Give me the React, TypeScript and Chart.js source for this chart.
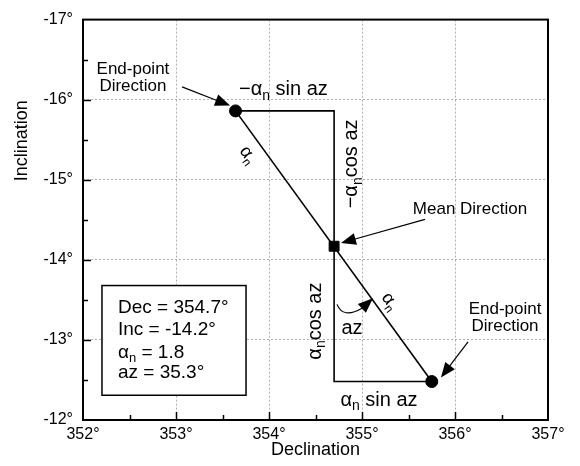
import React, { useEffect, useRef } from 'react';
import { Chart, registerables } from 'chart.js';

Chart.register(...registerables);

// ---- data ----
const decRange = [352, 357];
const incRange = [-17, -12];
const endPointDec = [353.64, 355.75];
const endPointInc = [-15.86, -12.48];
const meanDec = [354.7];
const meanInc = [-14.17];
const statLines = ['Dec = 354.7°', 'Inc = -14.2°', 'αn = 1.8', 'az = 35.3°'];

const FONT = '"Liberation Sans", Arial, Helvetica, sans-serif';

type Seg = { t: string; sub?: boolean };

const SUBR = 0.68;

function measureRich(ctx: CanvasRenderingContext2D, segs: Seg[], size: number) {
  let w = 0;
  for (const s of segs) {
    ctx.font = `${s.sub ? Math.round(size * SUBR) : size}px ${FONT}`;
    w += ctx.measureText(s.t).width;
  }
  return w;
}

function drawRich(
  ctx: CanvasRenderingContext2D,
  segs: Seg[],
  x: number,
  y: number,
  size: number,
  align: 'left' | 'center',
  rot = 0
) {
  ctx.save();
  ctx.translate(x, y);
  ctx.rotate(rot);
  const w = measureRich(ctx, segs, size);
  let cx = align === 'center' ? -w / 2 : 0;
  ctx.textBaseline = 'middle';
  ctx.textAlign = 'left';
  ctx.fillStyle = '#000';
  for (const s of segs) {
    const fs = s.sub ? Math.round(size * SUBR) : size;
    ctx.font = `${fs}px ${FONT}`;
    ctx.fillText(s.t, cx, s.sub ? size * 0.32 : 0);
    cx += ctx.measureText(s.t).width;
  }
  ctx.restore();
}

function arrowHead(ctx: CanvasRenderingContext2D, fx: number, fy: number, tx: number, ty: number, len = 15, hw = 6) {
  const a = Math.atan2(ty - fy, tx - fx);
  const bx = tx - len * Math.cos(a);
  const by = ty - len * Math.sin(a);
  ctx.beginPath();
  ctx.moveTo(tx, ty);
  ctx.lineTo(bx + hw * Math.sin(a), by - hw * Math.cos(a));
  ctx.lineTo(bx - hw * Math.sin(a), by + hw * Math.cos(a));
  ctx.closePath();
  ctx.fill();
}

function parseStat(s: string): Seg[] {
  if (s.startsWith('αn')) return [{ t: 'α' }, { t: 'n', sub: true }, { t: s.slice(2) }];
  return [{ t: s }];
}

const annotPlugin = {
  id: 'annot',
  afterDraw(chart: any) {
    const { ctx, chartArea: ca, scales } = chart;
    const xs = scales.x;
    const ys = scales.y;
    const X = (v: number) => xs.getPixelForValue(v);
    const Y = (v: number) => ys.getPixelForValue(v);
    ctx.save();
    ctx.fillStyle = '#000';
    ctx.strokeStyle = '#000';

    // inner tick marks
    ctx.lineWidth = 1.5;
    for (let v = decRange[0] + 0.5; v < decRange[1]; v += 0.5) {
      const len = v % 1 === 0 ? 8 : 5;
      const px = Math.round(X(v)) + 0.5;
      ctx.beginPath();
      ctx.moveTo(px, ca.bottom);
      ctx.lineTo(px, ca.bottom - len);
      ctx.stroke();
    }
    for (let v = incRange[0] + 0.5; v < incRange[1]; v += 0.5) {
      const len = v % 1 === 0 ? 8 : 5;
      const py = Math.round(Y(v)) + 0.5;
      ctx.beginPath();
      ctx.moveTo(ca.left, py);
      ctx.lineTo(ca.left + len, py);
      ctx.stroke();
    }

    // frame
    ctx.lineWidth = 2;
    ctx.strokeRect(ca.left, ca.top, ca.right - ca.left, ca.bottom - ca.top);

    // axis titles
    ctx.font = `18px ${FONT}`;
    ctx.textAlign = 'center';
    ctx.textBaseline = 'middle';
    ctx.fillText('Declination', (ca.left + ca.right) / 2, 450);
    ctx.save();
    ctx.translate(22, Y(-15.5) + 1);
    ctx.rotate(-Math.PI / 2);
    ctx.fillText('Inclination', 0, 0);
    ctx.restore();

    // stats box
    const bx0 = X(352.204), by0 = Y(-13.679), bx1 = X(353.753), by1 = Y(-12.309);
    ctx.fillStyle = '#fff';
    ctx.fillRect(bx0, by0, bx1 - bx0, by1 - by0);
    ctx.lineWidth = 1.5;
    ctx.strokeRect(bx0, by0, bx1 - bx0, by1 - by0);
    ctx.fillStyle = '#000';
    const statY = [-13.407, -13.123, -12.84, -12.593];
    statLines.forEach((s, i) => drawRich(ctx, parseStat(s), X(352.376), Y(statY[i]), 19, 'left'));

    // diagonal angle
    const p1x = X(endPointDec[0]), p1y = Y(endPointInc[0]);
    const p2x = X(endPointDec[1]), p2y = Y(endPointInc[1]);
    const diagAng = Math.atan2(p2y - p1y, p2x - p1x);

    const alphaN: Seg[] = [{ t: 'α' }, { t: 'n', sub: true }];

    // labels
    ctx.font = `17px ${FONT}`;
    ctx.textAlign = 'center';
    ctx.textBaseline = 'middle';
    ctx.fillText('End-point', X(352.537), Y(-16.383));
    ctx.fillText('Direction', X(352.537), Y(-16.173));
    ctx.fillText('Mean Direction', X(356.161), Y(-14.63));
    ctx.fillText('End-point', X(356.538), Y(-13.383));
    ctx.fillText('Direction', X(356.538), Y(-13.173));

    drawRich(ctx, [{ t: '−α' }, { t: 'n', sub: true }, { t: ' sin az' }], X(353.677), Y(-16.123), 20, 'left');
    drawRich(ctx, [{ t: 'α' }, { t: 'n', sub: true }, { t: ' sin az' }], X(355.183), Y(-12.247), 20, 'center');
    drawRich(ctx, [{ t: '−α' }, { t: 'n', sub: true }, { t: 'cos az' }], X(354.892), Y(-15.198), 20, 'center', -Math.PI / 2);
    drawRich(ctx, [{ t: 'α' }, { t: 'n', sub: true }, { t: 'cos az' }], X(354.495), Y(-13.235), 20, 'center', -Math.PI / 2);
    drawRich(ctx, [{ t: 'az' }], X(354.892), Y(-13.148), 20, 'center');
    drawRich(ctx, alphaN, X(353.774), Y(-15.309), 18, 'center', diagAng);
    drawRich(ctx, alphaN, X(355.301), Y(-13.481), 18, 'center', diagAng);

    // straight arrows
    const arrows = [
      [353.065, -16.16, 353.581, -15.926],
      [355.677, -14.506, 354.774, -14.21],
      [356.14, -12.975, 355.849, -12.531],
    ];
    ctx.lineWidth = 1.2;
    for (const [fx, fy, tx, ty] of arrows) {
      const a = X(fx), b = Y(fy), c = X(tx), d = Y(ty);
      const ang = Math.atan2(d - b, c - a);
      ctx.beginPath();
      ctx.moveTo(a, b);
      ctx.lineTo(c - 12 * Math.cos(ang), d - 12 * Math.sin(ang));
      ctx.stroke();
      arrowHead(ctx, a, b, c, d, 15, 6);
    }

    // curved arrow (az)
    const c0x = X(354.731), c0y = Y(-13.444);
    const c1x = X(354.796), c1y = Y(-13.259);
    const c2x = X(355.0), c2y = Y(-13.395);
    const tipx = X(355.118), tipy = Y(-13.519);
    ctx.beginPath();
    ctx.moveTo(c0x, c0y);
    ctx.quadraticCurveTo(c1x, c1y, c2x, c2y);
    ctx.stroke();
    arrowHead(ctx, c2x, c2y, tipx, tipy, 15, 6);

    ctx.restore();
  },
};

export default function App() {
  const ref = useRef<HTMLCanvasElement | null>(null);

  useEffect(() => {
    if (!ref.current) return;
    const pathPts = [
      { x: endPointDec[0], y: endPointInc[0] },
      { x: meanDec[0], y: endPointInc[0] },
      { x: meanDec[0], y: endPointInc[1] },
      { x: endPointDec[1], y: endPointInc[1] },
    ];
    const diagPts = [
      { x: endPointDec[0], y: endPointInc[0] },
      { x: endPointDec[1], y: endPointInc[1] },
    ];
    const chart = new Chart(ref.current, {
      type: 'scatter',
      data: {
        datasets: [
          {
            data: pathPts,
            showLine: true,
            borderColor: '#000',
            borderWidth: 1.6,
            pointRadius: 0,
            fill: false,
          },
          {
            data: diagPts,
            showLine: true,
            borderColor: '#000',
            borderWidth: 1.6,
            pointRadius: 0,
            fill: false,
          },
          {
            data: endPointDec.map((d, i) => ({ x: d, y: endPointInc[i] })),
            pointRadius: 6,
            pointBackgroundColor: '#000',
            pointBorderColor: '#000',
            pointStyle: 'circle',
          },
          {
            data: meanDec.map((d, i) => ({ x: d, y: meanInc[i] })),
            pointRadius: 7,
            pointBackgroundColor: '#000',
            pointBorderColor: '#000',
            pointStyle: 'rect',
          },
        ],
      },
      options: {
        animation: false,
        responsive: true,
        maintainAspectRatio: false,
        layout: { padding: { top: 15, right: 32, left: 0, bottom: 0 } },
        plugins: { legend: { display: false }, tooltip: { enabled: false } },
        scales: {
          x: {
            type: 'linear',
            min: decRange[0],
            max: decRange[1],
            afterFit: (s: any) => {
              s.height = 46;
            },
            ticks: {
              stepSize: 1,
              padding: 5,
              color: '#000',
              font: { family: FONT, size: 16 },
              callback: (v: any) => `${v}°`,
              maxRotation: 0,
            },
            grid: { color: '#b0b0b0', lineWidth: 1, drawTicks: false },
            border: { display: false, dash: [2, 2] },
          },
          y: {
            type: 'linear',
            min: incRange[0],
            max: incRange[1],
            reverse: true,
            afterFit: (s: any) => {
              s.width = 83;
            },
            ticks: {
              stepSize: 1,
              padding: 10,
              color: '#000',
              font: { family: FONT, size: 16 },
              callback: (v: any) => `${v}°`,
            },
            grid: { color: '#b0b0b0', lineWidth: 1, drawTicks: false },
            border: { display: false, dash: [2, 2] },
          },
        },
      },
      plugins: [annotPlugin],
    });
    return () => chart.destroy();
  }, []);

  return (
    <div style={{ position: 'absolute', left: 0, top: 0, width: 580, height: 466, background: '#fff' }}>
      <canvas ref={ref} />
    </div>
  );
}
